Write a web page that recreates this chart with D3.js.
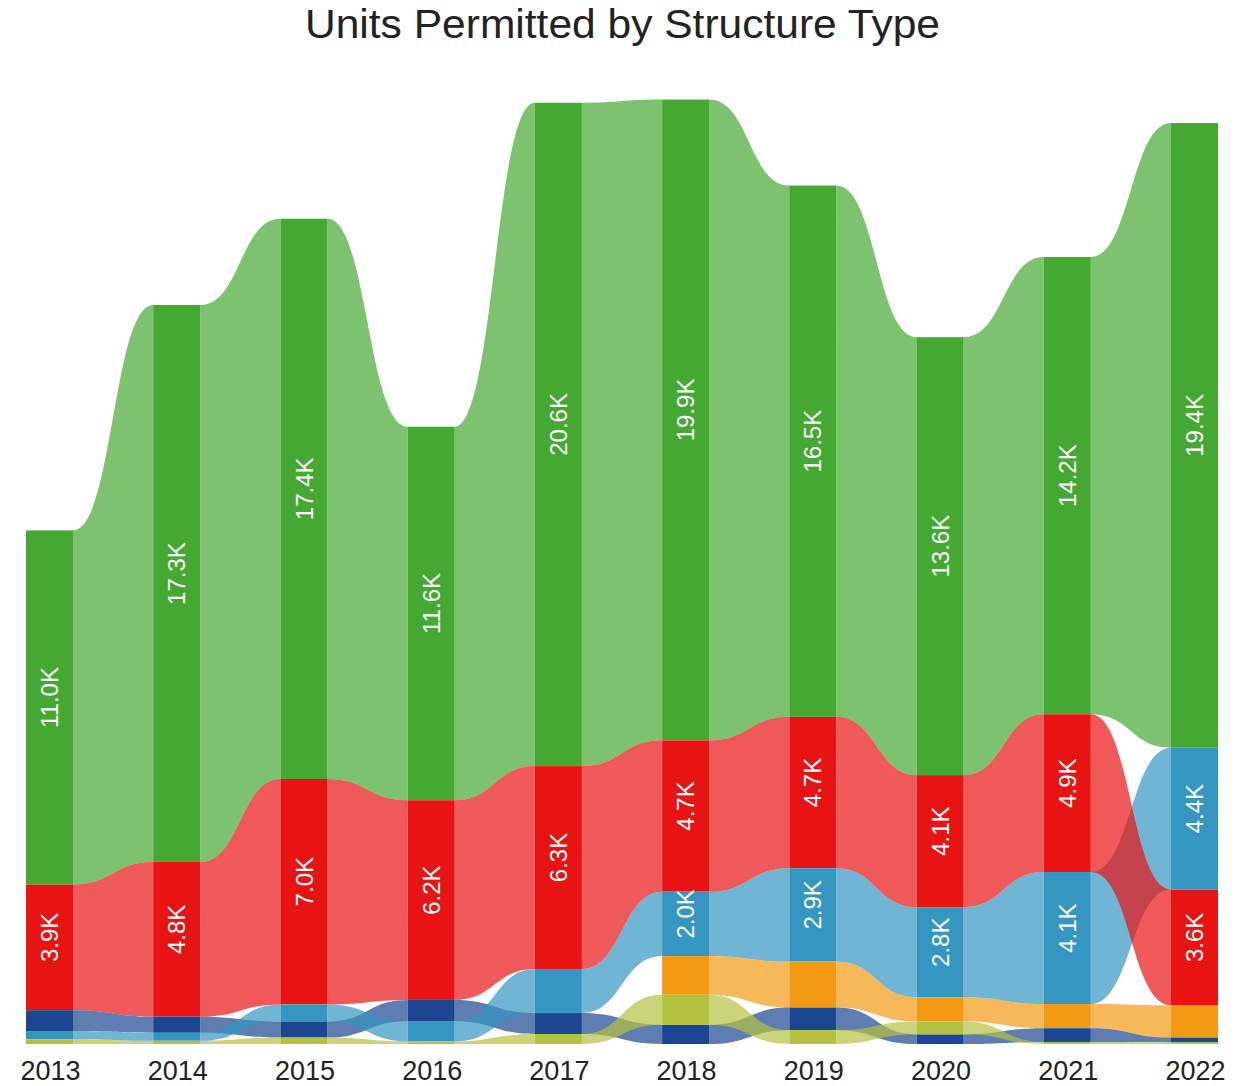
<!DOCTYPE html>
<html>
<head>
<meta charset="utf-8">
<script src="https://cdn.jsdelivr.net/npm/d3@7"></script>
<style>
  html, body { margin: 0; padding: 0; background: #fff; }
  svg { display: block; }
  text { font-family: "Liberation Sans", Arial, sans-serif; }
</style>
</head>
<body>
<svg id="chart" width="1246" height="1086"></svg>
<script>
// ---- data (thousands of units) ----
const years = ["2013","2014","2015","2016","2017","2018","2019","2020","2021","2022"];
const categories = ["Green", "Red", "LightBlue", "Orange", "DarkBlue", "YellowGreen"];
const seriesGreen       = [11.0, 17.3, 17.4, 11.6, 20.6, 19.9, 16.5, 13.6, 14.2, 19.4];
const seriesRed         = [3.9, 4.8, 7.0, 6.2, 6.3, 4.7, 4.7, 4.1, 4.9, 3.6];
const seriesLightBlue   = [0.25, 0.25, 0.53, 0.63, 1.37, 2.0, 2.9, 2.8, 4.1, 4.4];
const seriesOrange      = [0, 0, 0, 0, 0, 1.2, 1.43, 0.75, 0.75, 1.0];
const seriesDarkBlue    = [0.65, 0.5, 0.5, 0.66, 0.65, 0.6, 0.7, 0.3, 0.43, 0.15];
const seriesYellowGreen = [0.15, 0.1, 0.2, 0.08, 0.31, 0.93, 0.43, 0.4, 0.06, 0.05];
const colors = ["#45a832", "#e81313", "#3596c2", "#f39a12", "#1c4690", "#b5c23f"];
const title = "Units Permitted by Structure Type";

const seriesValues = [seriesGreen, seriesRed, seriesLightBlue, seriesOrange, seriesDarkBlue, seriesYellowGreen];
// draw order of ribbons (bottom to top)
const drawOrder = ["Green", "Orange", "DarkBlue", "YellowGreen", "LightBlue", "Red"];

const svg = d3.select("#chart");
const barW = 47;
const x = d3.scalePoint().domain(years).range([49.5, 1194.5]);
const y = d3.scaleLinear().domain([0, 30]).range([1044, 78]);

// stacked positions per year, largest on top
const pos = {};
categories.forEach(c => pos[c] = []);
years.forEach((yr, i) => {
  const items = categories.map((c, k) => ({c, v: seriesValues[k][i]}));
  items.sort((a, b) => a.v - b.v); // smallest at bottom
  let acc = 0;
  items.forEach(it => {
    pos[it.c][i] = {v: it.v, lo: acc, hi: acc + it.v};
    acc += it.v;
  });
});

const area = d3.area()
  .x(d => d.x).y0(d => d.bot).y1(d => d.top)
  .curve(d3.curveBumpX);

const gRib = svg.append("g");
drawOrder.forEach(c => {
  const k = categories.indexOf(c);
  for (let i = 0; i < years.length - 1; i++) {
    const a = pos[c][i], b = pos[c][i + 1];
    if (a.v <= 0 || b.v <= 0) continue;
    const pts = [
      {x: x(years[i]) + barW / 2, top: y(a.hi), bot: y(a.lo)},
      {x: x(years[i + 1]) - barW / 2, top: y(b.hi), bot: y(b.lo)}
    ];
    gRib.append("path").attr("d", area(pts))
      .attr("fill", colors[k]).attr("fill-opacity", 0.7);
  }
});

const gBar = svg.append("g");
const gLab = svg.append("g");
categories.forEach((c, k) => {
  years.forEach((yr, i) => {
    const p = pos[c][i];
    if (p.v <= 0) return;
    gBar.append("rect")
      .attr("x", x(yr) - barW / 2).attr("width", barW)
      .attr("y", y(p.hi)).attr("height", y(p.lo) - y(p.hi))
      .attr("fill", colors[k]);
    if (p.v >= 1.9) {
      const cy = (y(p.hi) + y(p.lo)) / 2 - 10;
      gLab.append("text")
        .attr("transform", `translate(${x(yr)},${cy}) rotate(-90)`)
        .attr("text-anchor", "middle").attr("dy", "0.36em")
        .attr("fill", "#fff").attr("font-size", 24)
        .text(d3.format(".1f")(p.v) + "K");
    }
  });
});

// year axis labels
svg.append("g").selectAll("text").data(years).join("text")
  .attr("x", d => x(d) + 1).attr("y", 1080)
  .attr("text-anchor", "middle").attr("font-size", 27).attr("fill", "#222")
  .text(d => d);

svg.append("text")
  .attr("x", 622.5).attr("y", 38)
  .attr("text-anchor", "middle").attr("font-size", 41).attr("fill", "#222")
  .attr("textLength", 635).attr("lengthAdjust", "spacingAndGlyphs")
  .text(title);
</script>
</body>
</html>
